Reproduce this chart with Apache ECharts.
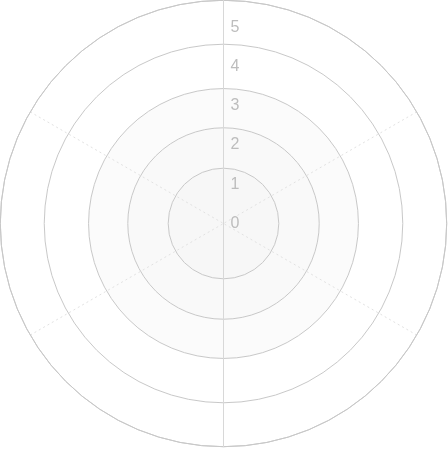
<!DOCTYPE html>
<html><head><meta charset="utf-8">
<script src="https://cdn.jsdelivr.net/npm/echarts@6/dist/echarts.min.js"></script>
<style>html,body{margin:0;padding:0;background:#fff}#c{width:448px;height:449px}</style>
</head><body><div id="c"></div>
<script>
// radius axis tick labels
const radiusLabels = [0, 1, 2, 3, 4, 5];
// radial positions of the concentric split circles (in axis units)
const ringValues = [0, 1.41, 2.44, 3.44, 4.57, 5.69];
const radiusMax = 5.69;

const chart = echarts.init(document.getElementById('c'), null, {renderer: 'canvas'});
const center = [223.5, 223.5];
const R = 223.2;
const hidden = {show: false};
const plainAngle = (i, start) => ({polarIndex: i, type: 'value', min: 0, max: 360, startAngle: start,
  axisLine: hidden, axisTick: hidden, axisLabel: hidden, splitLine: hidden});
chart.setOption({
  animation: false,
  polar: [
    {center: center, radius: R},
    {center: center, radius: R},
    {center: center, radius: R},
    {center: center, radius: R}
  ],
  angleAxis: [
    {
      polarIndex: 0, type: 'value', min: 0, max: 360, interval: 60, startAngle: 90, z: 2,
      axisLine: {show: true, lineStyle: {color: '#c8c8c8', width: 1, type: 'solid'}},
      axisTick: hidden, axisLabel: hidden,
      splitLine: {show: true, lineStyle: {color: '#e2e2e2', type: [2, 3], width: 1}}
    },
    plainAngle(1, 270),
    plainAngle(2, 90),
    plainAngle(3, 90)
  ],
  radiusAxis: [
    {
      polarIndex: 0, type: 'value', min: 0, max: radiusMax, z: 2,
      axisLine: hidden,
      axisTick: {show: false, customValues: ringValues},
      axisLabel: {show: true, customValues: radiusLabels, color: '#bdbdbd', fontSize: 16, margin: -7,
        align: 'left', fontFamily: 'Liberation Sans, Arial, sans-serif'},
      splitLine: {show: true, lineStyle: {color: '#c8c8c8', width: 1, type: 'solid'}},
      splitArea: hidden
    },
    {polarIndex: 1, type: 'value', min: 0, max: radiusMax, z: 3,
      axisLine: {show: true, lineStyle: {color: '#d8d8d8', width: 1}},
      axisTick: hidden, axisLabel: hidden, splitLine: hidden, splitArea: hidden},
    {polarIndex: 2, type: 'value', min: 0, max: radiusMax, z: 3,
      axisLine: {show: true, lineStyle: {color: '#d8d8d8', width: 1}},
      axisTick: hidden, axisLabel: hidden, splitLine: hidden, splitArea: hidden},
    {polarIndex: 3, type: 'value', min: 0, max: radiusMax, z: 0,
      axisLine: hidden,
      axisTick: {show: false, customValues: ringValues},
      axisLabel: hidden, splitLine: hidden,
      splitArea: {show: true, areaStyle: {color: ['#f7f7f7', '#f9f9f9', '#fbfbfb', '#ffffff', '#ffffff']}}}
  ],
  series: []
});
</script></body></html>
